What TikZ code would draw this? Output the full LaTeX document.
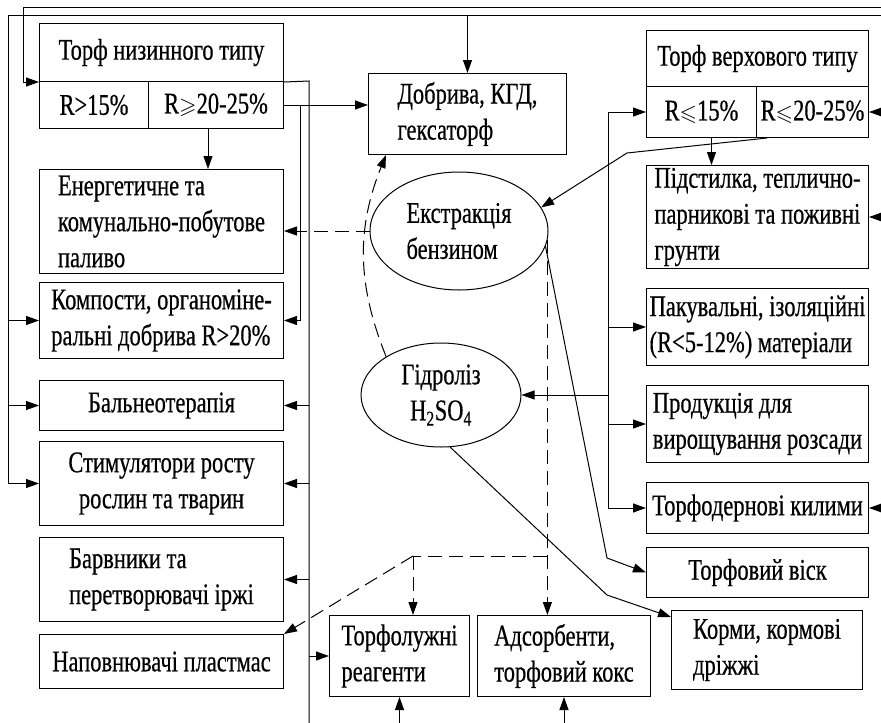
\documentclass[tikz,border=0pt]{standalone}
\usepackage{fontspec}
\usepackage{amssymb}
\setmainfont{Liberation Serif}[FakeStretch=0.75, FakeBold=0.5]
\usetikzlibrary{arrows.meta,shapes.geometric}

\tikzset{
  box/.style={draw, anchor=north west, align=left, inner sep=0pt},
  oval/.style={draw, ellipse, align=left, inner sep=0pt},
  arr/.style={-{Triangle[length=13pt,width=9pt]}},
  dsh/.style={dash pattern=on 14pt off 7pt},
}
\newcommand{\lesl}{\scalebox{0.75}{$\leqslant$}}
\newcommand{\gesl}{\scalebox{0.75}{$\geqslant$}}

\begin{document}
\begin{tikzpicture}[x=1pt, y=-1pt, line width=1pt, font=\fontsize{30}{36}\selectfont]
\useasboundingbox (0,0) rectangle (881,723);

% ===== торф низинного типу і ліва колонка =====
\node[box, align=center, minimum width=244pt, minimum height=58pt] (nizyn) at (39,23) {Торф низинного типу};
\node[box, align=center, minimum width=109pt, minimum height=47pt] (r15) at (39,81) {R>15\%};
\node[box, align=center, minimum width=135pt, minimum height=47pt] (r20) at (148,81) {R\gesl20-25\%};
\node[box, minimum width=244pt, minimum height=104pt] (energ) at (39,169) {Енергетичне та\\комунально-побутове\\паливо};
\node[box, minimum width=244pt, minimum height=76pt] (kompost) at (39,282) {Компости, органоміне-\\ральні добрива R>20\%};
\node[box, align=center, minimum width=244pt, minimum height=50pt] (baln) at (39,380) {Бальнеотерапія};
\node[box, align=center, minimum width=244pt, minimum height=84pt] (stym) at (39,441) {Стимулятори росту\\рослин та тварин};
\node[box, minimum width=244pt, minimum height=84pt] (barv) at (39,537) {Барвники та\\перетворювачі іржі};
\node[box, align=center, minimum width=244pt, minimum height=54pt] (napov) at (39,634) {Наповнювачі пластмас};

% ===== середня частина =====
\node[box, minimum width=198pt, minimum height=81pt] (dobr) at (368,73) {Добрива, КГД,\\гексаторф};
\node[oval, minimum width=178pt, minimum height=118pt] (ekstr) at (459,231) {Екстракція\\бензином};
\node[oval, align=center, minimum width=160pt, minimum height=104pt] (hidr) at (441,395) {Гідроліз\\H\textsubscript{2}SO\textsubscript{4}};
\node[box, minimum width=140pt, minimum height=81pt] (luzh) at (329,615) {Торфолужні\\реагенти};
\node[box, minimum width=173pt, minimum height=81pt] (adsorb) at (477,615) {Адсорбенти,\\торфовий кокс};

% ===== торф верхового типу і права колонка =====
\node[box, align=center, minimum width=222pt, minimum height=56pt] (verkh) at (646,30) {Торф верхового типу};
\node[box, align=center, minimum width=110pt, minimum height=51pt] (v15) at (646,86) {R\lesl15\%};
\node[box, align=center, minimum width=112pt, minimum height=51pt] (v20) at (756,86) {R\lesl20-25\%};
\node[box, minimum width=222pt, minimum height=103pt] (pidst) at (646,165) {Підстилка, теплично-\\парникові та поживні\\грунти};
\node[box, minimum width=222pt, minimum height=77pt] (pakuv) at (646,288) {Пакувальні, ізоляційні\\(R<5-12\%) матеріали};
\node[box, minimum width=222pt, minimum height=77pt] (prod) at (646,385) {Продукція для\\вирощування розсади};
\node[box, align=center, minimum width=222pt, minimum height=51pt] (dern) at (646,482) {Торфодернові килими};
\node[box, align=center, minimum width=222pt, minimum height=50pt] (visk) at (646,547) {Торфовий віск};
\node[box, minimum width=191pt, minimum height=79pt] (korm) at (671,610) {Корми, кормові\\дріжжі};

% ===== точки ліній =====
\coordinate (topA) at (881,7);
\coordinate (topB) at (881,15);
\coordinate (edge) at (881,0);
\coordinate (bot) at (0,723);
\coordinate (lA) at (23,7);
\coordinate (lB) at (8,15);
\coordinate (busL) at (309,81);
\coordinate (busK) at (300,0);
\coordinate (busR) at (608,0);
\coordinate (split) at (413,556);
\coordinate (kinkE) at (627,153);
\coordinate (kinkV) at (607,558);
\coordinate (kinkK) at (607,595);
\coordinate (r20d) at ([xshift=-8pt]r20.south);
\coordinate (v15d) at ([xshift=10pt]v15.south);

% верхні лінії
\draw[arr] (topA) -- (lA) |- (nizyn.south west);
\draw (nizyn.south east) -- (busL) -- (busL |- bot);
\draw (topB) -- (lB) -- (lB |- stym.west);
\draw[arr] (lB |- kompost.west) -- (kompost.west);
\draw[arr] (lB |- baln.west) -- (baln.west);
\draw[arr] (lB |- stym.west) -- (stym.west);
\draw[arr] (dobr.north |- topB) -- (dobr.north);

% шина x=309
\draw[arr] (busL |- baln.east) -- (baln.east);
\draw[arr] (busL |- stym.east) -- (stym.east);
\draw[arr] (busL |- barv.east) -- (barv.east);
\draw[arr] (busL |- luzh.west) -- (luzh.west);

% R>20-25%
\draw[arr] (r20.east) -- (r20.east -| dobr.west);
\draw[arr] (r20.east) -| (busK |- kompost.east) -- (kompost.east);
\draw[arr] (r20d) -- (r20d |- energ.north);

% екстракція
\draw[arr, dsh] (ekstr.west) -- (ekstr.west -| energ.east);
\draw[arr, dsh] (ekstr.-6) -- (ekstr.-6 |- adsorb.north);
\draw[dsh] (ekstr.-6 |- split) -- (split);
\draw[arr, dsh] (split) -- (split |- luzh.north);
\draw[arr, dsh] (split) -- (napov.north east);
\draw[arr] (ekstr.-10) -- (kinkV) -- (visk.west);

% гідроліз
\draw[arr, dsh] (hidr.145) to[out=112, in=-112] ([xshift=18pt]dobr.south west);
\draw[arr] (hidr.-80) -- (kinkK) -- ([yshift=-7pt]korm.north west);
\draw[arr] (busR |- hidr.east) -- (hidr.east);

% торф верхового типу
\draw[arr] (busR |- dern.west) |- (v15.west);
\draw[arr] (busR |- pakuv.west) -- (pakuv.west);
\draw[arr] (busR |- prod.west) -- (prod.west);
\draw[arr] (busR |- dern.west) -- (dern.west);
\draw[arr] (v15d) -- (v15d |- pidst.north);
\draw[arr] ([xshift=11pt]v20.south west) -- (kinkE) -- (ekstr.16);

% правий край
\draw[arr] (edge |- v20.east) -- (v20.east);
\draw[arr] (edge |- pidst.east) -- (pidst.east);
\draw[arr] (edge |- dern.east) -- (dern.east);

% знизу
\draw[arr] (luzh.south |- bot) -- (luzh.south);
\draw[arr] (adsorb.south |- bot) -- (adsorb.south);

\end{tikzpicture}
\end{document}
